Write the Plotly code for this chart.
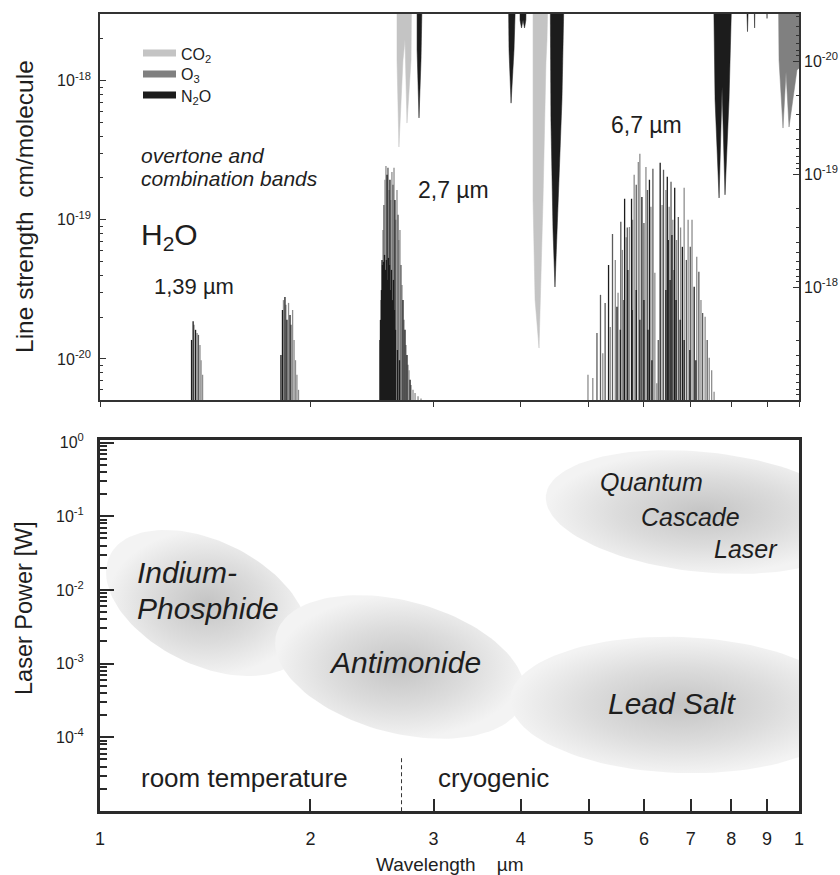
import numpy as np
import plotly.graph_objects as go

# ---------------- DATA ----------------
# H2O line positions (µm), strengths (cm/molecule) and grey shade (k=black, d=dark grey, g=grey)
h2o_band1_wl = [1.352, 1.359, 1.363, 1.370, 1.377, 1.383, 1.390, 1.395, 1.402]
h2o_band1_S = [1.37e-20, 1.87e-20, 1.76e-20, 1.62e-20, 1.54e-20, 1.49e-20, 1.26e-20, 9.8e-21, 7.7e-21]
h2o_band1_sh = ['k', 'k', 'g', 'k', 'g', 'd', 'g', 'g', 'g']

h2o_band2_wl = [1.815, 1.824, 1.830, 1.839, 1.845, 1.851, 1.861, 1.870, 1.876, 1.886, 1.895, 1.904, 1.913, 1.923]
h2o_band2_S = [1.07e-20, 2.25e-20, 2.65e-20, 2.79e-20, 2.45e-20, 1.91e-20, 2.53e-20, 2.07e-20, 1.76e-20,
               2.25e-20, 1.37e-20, 9.8e-21, 7.7e-21, 6.0e-21]
h2o_band2_sh = ['k', 'k', 'g', 'k', 'g', 'k', 'g', 'k', 'd', 'g', 'g', 'g', 'g', 'g']

h2o_band3_wl = [2.515, 2.523, 2.532, 2.540, 2.548, 2.557, 2.565, 2.574, 2.582, 2.591, 2.599, 2.608,
                2.616, 2.625, 2.634, 2.642, 2.651, 2.660, 2.669, 2.677, 2.686, 2.695, 2.704, 2.713,
                2.722, 2.731, 2.740, 2.749, 2.758, 2.767, 2.777, 2.786, 2.804, 2.823, 2.851, 2.879,
                2.519, 2.527, 2.536, 2.544, 2.553, 2.561, 2.569, 2.578, 2.586, 2.595, 2.604, 2.612,
                2.621, 2.629, 2.638, 2.647, 2.664, 2.682]
h2o_band3_S = [1.37e-20, 2.65e-20, 5.15e-20, 8.47e-20, 1.28e-19, 1.94e-19, 2.44e-19, 2.11e-19, 2.37e-19,
               1.64e-19, 1.94e-19, 1.39e-19, 2.21e-19, 1.79e-19, 2.37e-19, 1.39e-19, 1.00e-19, 1.64e-19,
               1.09e-19, 7.18e-20, 8.47e-20, 4.74e-20, 3.40e-20, 2.65e-20, 1.91e-20, 1.62e-20, 1.26e-20,
               1.07e-20, 9.1e-21, 8.3e-21, 7.1e-21, 6.5e-21, 6.0e-21, 5.7e-21, 5.4e-21, 5.2e-21,
               1.91e-20, 3.13e-20, 4.74e-20, 4.99e-20, 5.60e-20, 4.37e-20, 5.15e-20, 3.70e-20, 5.33e-20,
               4.74e-20, 3.13e-20, 4.37e-20, 2.65e-20, 3.70e-20, 2.25e-20, 1.62e-20, 1.16e-20, 9.8e-21]
h2o_band3_sh = ['k', 'g', 'k', 'g', 'd', 'g', 'g', 'k', 'd', 'g', 'k', 'g', 'g', 'd', 'g', 'k', 'g', 'g',
                'd', 'g', 'g', 'd', 'g', 'k', 'g', 'k', 'g', 'k', 'g', 'g', 'k', 'g', 'g', 'g', 'g', 'g',
                'k', 'k', 'k', 'k', 'k', 'k', 'k', 'k', 'k', 'k', 'k', 'k', 'k', 'k', 'k', 'k', 'k', 'k']

h2o_band4_wl = [4.99, 5.07, 5.14, 5.20, 5.24, 5.28, 5.34, 5.37, 5.41, 5.46, 5.49, 5.51, 5.56, 5.59, 5.63,
                5.66, 5.68, 5.72, 5.76, 5.78, 5.81, 5.85, 5.89, 5.92, 5.96, 6.00, 6.04, 6.07, 6.11, 6.14,
                6.18, 6.22, 6.26, 6.29, 6.33, 6.37, 6.40, 6.45, 6.48, 6.52, 6.56, 6.60, 6.64, 6.68, 6.72,
                6.77, 6.81, 6.85, 6.90, 6.94, 6.99, 7.03, 7.08, 7.14, 7.19, 7.24, 7.28, 7.34, 7.39, 7.44,
                7.50, 7.56,
                5.55, 5.62, 5.69, 5.77, 5.85, 5.92, 6.00, 6.08, 6.16, 6.45, 6.50, 6.54, 6.58, 6.63, 6.67,
                6.76, 6.85, 6.98, 7.12]
h2o_band4_S = [7.7e-21, 7.3e-21, 1.54e-20, 2.89e-20, 1.10e-20, 2.53e-20, 4.74e-20, 1.70e-20, 7.9e-20,
               5.15e-20, 2.37e-20, 2.99e-20, 9.7e-20, 6.08e-20, 1.42e-19, 7.5e-20, 8.8e-20, 8.9e-20,
               1.42e-19, 1.00e-19, 2.11e-19, 1.79e-19, 2.61e-19, 2.99e-19, 1.46e-19, 9.5e-20, 2.40e-19,
               1.64e-19, 1.94e-19, 1.24e-19, 2.33e-19, 4.16e-20, 6.7e-21, 1.37e-20, 2.57e-19, 1.28e-19,
               2.29e-19, 1.64e-19, 2.04e-19, 1.24e-19, 1.88e-19, 1.00e-19, 1.70e-19, 7.18e-20, 1.05e-19,
               8.8e-20, 6.40e-20, 1.70e-19, 5.15e-20, 1.00e-19, 6.40e-20, 1.00e-19, 3.30e-20, 5.42e-20,
               4.23e-20, 2.65e-20, 2.14e-20, 2.01e-20, 1.37e-20, 1.02e-20, 8.3e-21, 5.8e-21,
               1.62e-20, 2.65e-20, 4.37e-20, 2.25e-20, 3.13e-20, 1.91e-20, 2.65e-20, 1.62e-20, 9.8e-21,
               3.13e-20, 7.18e-20, 3.70e-20, 7.80e-20, 4.37e-20, 2.65e-20, 1.91e-20, 1.37e-20, 1.16e-20,
               9.8e-21]
h2o_band4_sh = ['g', 'g', 'd', 'd', 'g', 'd', 'k', 'g', 'd', 'g', 'k', 'g', 'd', 'g', 'k', 'g', 'd', 'g',
                'k', 'g', 'g', 'd', 'g', 'g', 'k', 'd', 'g', 'd', 'k', 'g', 'd', 'g', 'g', 'd', 'k', 'g',
                'd', 'g', 'k', 'g', 'd', 'g', 'k', 'g', 'd', 'g', 'k', 'g', 'd', 'g', 'd', 'g', 'k', 'g',
                'd', 'g', 'd', 'g', 'd', 'g', 'g', 'g',
                'k', 'k', 'k', 'k', 'k', 'k', 'k', 'k', 'k', 'k', 'k', 'k', 'k', 'k', 'k', 'k', 'k', 'k', 'k']

# Other molecules (right axis, hanging bands): outline wavelength (µm) / strength (cm/molecule)
S_TOP = 1e-21
co2_bands = [
    ([2.660, 2.795, 2.786, 2.749, 2.731, 2.713, 2.677, 2.660],
     [S_TOP, S_TOP, 9.8e-21, 3.54e-20, 6.5e-21, 9.8e-21, 5.77e-20, 9.8e-21]),
    ([4.164, 4.388, 4.360, 4.345, 4.303, 4.247, 4.192, 4.164],
     [S_TOP, S_TOP, 6.5e-21, 1.04e-20, 1.70e-19, 3.47e-18, 1.30e-18, 1.70e-19]),
]
o3_bands = [
    ([9.333, 10.30, 10.30, 9.934, 9.677, 9.581, 9.487, 9.363],
     [S_TOP, S_TOP, 9.8e-21, 1.20e-20, 3.84e-20, 1.25e-20, 3.92e-20, 9.8e-21]),
]
n2o_bands = [
    ([2.842, 2.898, 2.879, 2.860, 2.842],
     [S_TOP, S_TOP, 9.8e-21, 3.19e-20, 8.0e-21]),
    ([3.834, 3.950, 3.911, 3.873, 3.847],
     [S_TOP, S_TOP, 8.0e-21, 2.36e-20, 8.0e-21]),
    ([3.989, 4.082, 4.067, 4.049, 4.029, 4.009, 3.989],
     [S_TOP, S_TOP, 4.34e-21, 5.1e-21, 4.34e-21, 5.1e-21, 4.34e-21]),
    ([4.403, 4.626, 4.58, 4.506, 4.476, 4.447, 4.417],
     [S_TOP, S_TOP, 2.21e-20, 3.13e-19, 1.00e-18, 3.13e-19, 3.33e-20]),
    ([7.534, 8.046, 7.941, 7.837, 7.761, 7.685, 7.584],
     [S_TOP, S_TOP, 2.21e-20, 1.53e-19, 1.70e-20, 1.63e-19, 2.21e-20]),
    ([8.369, 8.511, 8.44], [S_TOP, S_TOP, 5.5e-21]),
    ([8.596, 8.681, 8.64], [S_TOP, S_TOP, 5.1e-21]),
    ([8.97, 9.03, 9.00], [S_TOP, S_TOP, 4.2e-21]),
]

# Laser technology regions (centre wavelength µm, centre power W)
laser_names = ['Indium-Phosphide', 'Antimonide', 'Lead Salt', 'Quantum Cascade Laser']
laser_wl = [1.422, 2.686, 6.76, 7.29]
laser_P = [6.64e-3, 9.0e-4, 2.74e-4, 0.114]

x_ticks = [1, 2, 3, 4, 5, 6, 7, 8, 9, 10]
x_ticktext = ['1', '2', '3', '4', '5', '6', '7', '8', '9', '1']
split_wl = 2.70

# ---------------- LAYOUT GEOMETRY ----------------
W, H = 840, 875
L, R, T, B = 100, 41, 14, 64
PW, PH = W - L - R, H - T - B
top_dom = [(H - B - 400) / PH, 1.0]
bot_dom = [0.0, (H - B - 440) / PH]
yl_range = [-20.295, -17.52]
yr_range = [-17.0, -20.416]
yb_range = [-5.0, 0.034]

FONT = 'Liberation Sans, Arial, sans-serif'
TXT = '#1e1e1e'


def paper(xp, yp):
    return (xp - L) / PW, (H - B - yp) / PH


fig = go.Figure()

# H2O lines
all_wl = h2o_band1_wl + h2o_band2_wl + h2o_band3_wl + h2o_band4_wl
all_S = h2o_band1_S + h2o_band2_S + h2o_band3_S + h2o_band4_S
all_sh = h2o_band1_sh + h2o_band2_sh + h2o_band3_sh + h2o_band4_sh
shade_col = {'g': '#8e8e8e', 'd': '#5c5c5c', 'k': '#1c1c1c'}
for sh in ['g', 'd', 'k']:
    xs, ys = [], []
    for w, s, c in zip(all_wl, all_S, all_sh):
        if c == sh:
            xs += [w, w, None]
            ys += [1e-21, s, None]
    fig.add_trace(go.Scatter(x=xs, y=ys, mode='lines', xaxis='x', yaxis='y',
                             line=dict(color=shade_col[sh], width=1.3),
                             showlegend=False, hoverinfo='skip'))

# Hanging bands on right axis
for bands, col in [(co2_bands, '#c4c4c4'), (o3_bands, '#808080'), (n2o_bands, '#1c1c1c')]:
    for bx, by in bands:
        fig.add_trace(go.Scatter(x=bx + [bx[0]], y=by + [by[0]], mode='lines', fill='toself',
                                 fillcolor=col, line=dict(color=col, width=0.5),
                                 xaxis='x', yaxis='y2', showlegend=False, hoverinfo='skip'))

# Laser regions (ellipses)
ell_geom = {  # semi axes in px, tilt in degrees (clockwise on screen)
    'Indium-Phosphide': (108, 62, 26),
    'Antimonide': (128, 66, 15),
    'Lead Salt': (170, 68, 2),
    'Quantum Cascade Laser': (158, 60, 6),
}
px_per_dec_x = PW / 1.0
px_per_dec_y = (bot_dom[1] * PH) / (yb_range[1] - yb_range[0])
t = np.linspace(0, 2 * np.pi, 121)
for name, wl, P in zip(laser_names, laser_wl, laser_P):
    a, b, ang = ell_geom[name]
    th = np.deg2rad(ang)
    dx = a * np.cos(t) * np.cos(th) - b * np.sin(t) * np.sin(th)
    dy = a * np.cos(t) * np.sin(th) + b * np.sin(t) * np.cos(th)
    ex = 10 ** (np.log10(wl) + dx / px_per_dec_x)
    ey = 10 ** (np.log10(P) - dy / px_per_dec_y)
    fig.add_trace(go.Scatter(x=ex, y=ey, mode='lines', fill='toself', xaxis='x2', yaxis='y3',
                             line=dict(width=0, color='rgba(0,0,0,0)'),
                             fillgradient=dict(type='radial',
                                               colorscale=[[0, '#c4c4c4'], [0.55, '#dcdcdc'], [1, '#f3f3f3']]),
                             showlegend=False, hoverinfo='skip'))

# dashed separator
fig.add_trace(go.Scatter(x=[split_wl, split_wl], y=[5.2e-5, 1e-5], mode='lines', xaxis='x2', yaxis='y3',
                         line=dict(color='#333', width=1, dash='4px,3px'), showlegend=False, hoverinfo='skip'))


def minor_vals(lo, hi):
    out = []
    for k in range(lo, hi + 1):
        for m in range(2, 10):
            out.append(m * 10.0 ** k)
    return out


top_minor = minor_vals(-21, -17)
bot_minor = minor_vals(-5, -1)

tickfont = dict(family=FONT, size=16, color=TXT)
fig.update_layout(
    template='none', width=W, height=H, margin=dict(l=L, r=R, t=T, b=B),
    paper_bgcolor='white', plot_bgcolor='white', showlegend=False,
    font=dict(family=FONT, color=TXT),
    xaxis=dict(type='log', range=[0, 1], domain=[0, 1], anchor='y', showgrid=False, zeroline=False,
               showline=True, mirror=True, linecolor='#333', linewidth=1.5,
               tickvals=x_ticks, ticks='outside', ticklen=5, tickwidth=1, tickcolor='#333',
               showticklabels=False, automargin=False),
    xaxis3=dict(type='log', range=[0, 1], overlaying='x', side='top', anchor='y', showgrid=False,
                zeroline=False, showline=False, tickvals=x_ticks, ticks='inside', ticklen=5, tickwidth=1,
                tickcolor='#333', showticklabels=False, automargin=False),
    yaxis=dict(type='log', range=yl_range, domain=top_dom, anchor='x', showgrid=False, zeroline=False,
               showline=True, mirror=True, linecolor='#333', linewidth=1.5,
               tickvals=[1e-20, 1e-19, 1e-18],
               ticktext=['10<sup>-20</sup>', '10<sup>-19</sup>', '10<sup>-18</sup>'],
               ticks='inside', ticklen=6, tickwidth=1, tickcolor='#333', tickfont=tickfont,
               ticklabelstandoff=4,
               minor=dict(tickvals=top_minor, ticks='inside', ticklen=3, tickwidth=1, tickcolor='#333'),
               automargin=False),
    yaxis2=dict(type='log', range=yr_range, overlaying='y', side='right', anchor='x', showgrid=False,
                zeroline=False, showline=False,
                tickvals=[1e-20, 1e-19, 1e-18],
                ticktext=['10<sup>-20</sup>', '10<sup>-19</sup>', '10<sup>-18</sup>'],
                ticks='inside', ticklen=6, tickwidth=1, tickcolor='#333', tickfont=tickfont,
                ticklabelstandoff=4,
                minor=dict(tickvals=top_minor, ticks='inside', ticklen=3, tickwidth=1, tickcolor='#333'),
                automargin=False),
    xaxis2=dict(type='log', range=[0, 1], domain=[0, 1], anchor='y3', showgrid=False, zeroline=False,
                showline=True, mirror=True, linecolor='#2a2a2a', linewidth=3,
                tickvals=x_ticks, ticktext=x_ticktext, ticks='inside', ticklen=12, tickwidth=2,
                tickcolor='#2a2a2a', tickfont=dict(family=FONT, size=18, color=TXT),
                ticklabelstandoff=9, automargin=False),
    yaxis3=dict(type='log', range=yb_range, domain=bot_dom, anchor='x2', showgrid=False, zeroline=False,
                showline=True, mirror=True, linecolor='#2a2a2a', linewidth=3,
                tickvals=[1e-4, 1e-3, 1e-2, 1e-1, 1],
                ticktext=['10<sup>-4</sup>', '10<sup>-3</sup>', '10<sup>-2</sup>', '10<sup>-1</sup>',
                          '10<sup>0</sup>'],
                ticks='inside', ticklen=14, tickwidth=2, tickcolor='#2a2a2a', tickfont=tickfont,
                ticklabelstandoff=10,
                minor=dict(tickvals=bot_minor, ticks='inside', ticklen=7, tickwidth=1.5, tickcolor='#2a2a2a'),
                automargin=False),
)

ann = []


def add_text(text, xp, yp, size, xanchor='left', italic=False, angle=0, yanchor='middle'):
    x, y = paper(xp, yp)
    if italic:
        text = '<i>' + text + '</i>'
    ann.append(dict(text=text, x=x, y=y, xref='paper', yref='paper', xanchor=xanchor, yanchor=yanchor,
                    showarrow=False, textangle=angle, font=dict(family=FONT, size=size, color=TXT)))


# top panel texts
add_text('overtone and', 139, 155, 21, italic=True)
add_text('combination bands', 139, 178, 21, italic=True)
add_text('H<sub>2</sub>O', 139, 236, 30)
add_text('1,39 µm', 152, 286, 22)
add_text('2,7 µm', 416, 190, 23)
add_text('6,7 µm', 609, 125, 23)

# legend
legend_items = [('CO<sub>2</sub>', '#c4c4c4', 53), ('O<sub>3</sub>', '#808080', 74), ('N<sub>2</sub>O', '#1c1c1c', 95)]
shapes = []
for lab, col, yy in legend_items:
    x0, y0 = paper(143, yy - 3.5)
    x1, y1 = paper(176, yy + 3.5)
    shapes.append(dict(type='rect', xref='paper', yref='paper', x0=x0, x1=x1, y0=y1, y1=y0,
                       fillcolor=col, line=dict(width=0)))
    add_text(lab, 179, yy + 2, 16)

# bottom panel texts
add_text('Indium-', 135, 573, 30, italic=True)
add_text('Phosphide', 135, 608, 30, italic=True)
add_text('Antimonide', 405, 662, 30, xanchor='center', italic=True)
add_text('Lead Salt', 672, 703, 30, xanchor='center', italic=True)
add_text('Quantum', 651, 482, 25, xanchor='center', italic=True)
add_text('Cascade', 690, 517, 25, xanchor='center', italic=True)
add_text('Laser', 746, 549, 25, xanchor='center', italic=True)
add_text('room temperature', 139, 778, 26)
add_text('cryogenic', 436, 778, 26)

# axis titles
add_text('Line strength\u00a0\u00a0cm/molecule', 24, 207, 24.5, xanchor='center', angle=-90)
add_text('Laser Power [W]', 24, 608, 23.5, xanchor='center', angle=-90)
add_text('Wavelength\u00a0\u00a0\u00a0\u00a0µm', 450, 864, 19, xanchor='center')

fig.update_layout(annotations=ann, shapes=shapes)
fig.write_html('out.html', config={'displayModeBar': False},
               post_script="document.body.style.margin='0px';document.body.style.padding='0px';"
                           "document.body.style.overflow='hidden';")
